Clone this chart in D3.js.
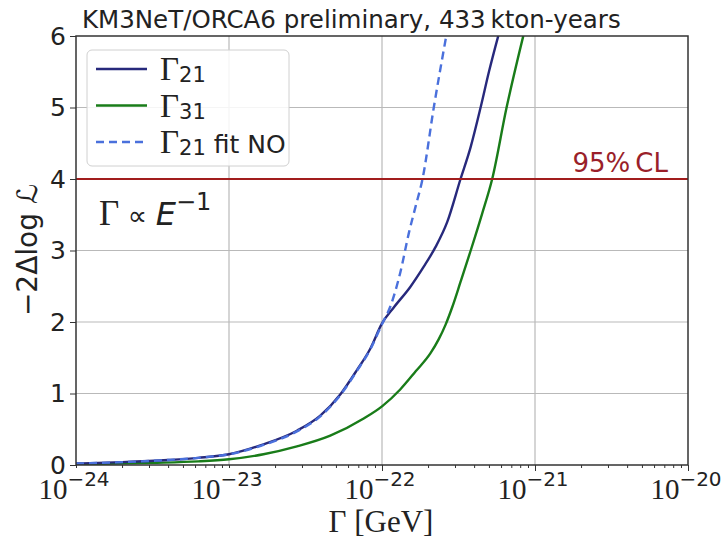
<!DOCTYPE html>
<html>
<head>
<meta charset="utf-8">
<script src="https://cdn.jsdelivr.net/npm/d3@7"></script>
<style>
body { margin: 0; background: #fff; }
</style>
</head>
<body>
<div id="chart"></div>
<script>
var w = 721,
    h = 538;

// --- data ---
var gamma21X = [1e-24, 2e-24, 4e-24, 6.3e-24, 1e-23, 1.68e-23, 2.78e-23, 3.95e-23, 5.35e-23, 6.87e-23, 8.4e-23,
                1e-22, 1.19e-22, 1.53e-22, 1.87e-22, 2.24e-22, 2.67e-22, 3.26e-22, 3.8e-22, 4.41e-22, 5.0e-22, 5.75e-22];
var gamma21Y = [0.02, 0.04, 0.07, 0.10, 0.15, 0.29, 0.48, 0.69, 0.99, 1.33, 1.63,
                1.98, 2.20, 2.49, 2.77, 3.05, 3.40, 4.0, 4.45, 5.0, 5.5, 6.0];

var gamma31X = [1e-24, 3.16e-24, 6.3e-24, 1e-23, 1.68e-23, 2.78e-23, 4.59e-23, 7.59e-23, 1e-22, 1.32e-22, 1.66e-22,
                2.07e-22, 2.35e-22, 2.6e-22, 2.88e-22, 3.26e-22, 3.8e-22, 4.52e-22, 5.25e-22, 6.52e-22, 8.38e-22];
var gamma31Y = [0.01, 0.03, 0.05, 0.08, 0.15, 0.26, 0.41, 0.65, 0.82, 1.06, 1.31,
                1.56, 1.76, 1.96, 2.21, 2.56, 3.0, 3.52, 4.0, 5.0, 6.0];

var fitNOX = [1e-24, 2e-24, 4e-24, 6.3e-24, 1e-23, 1.68e-23, 2.78e-23, 3.95e-23, 5.35e-23, 6.87e-23, 8.4e-23,
              1e-22, 1.135e-22, 1.32e-22, 1.5e-22, 1.66e-22, 1.84e-22, 2.18e-22, 2.63e-22];
var fitNOY = [0.02, 0.04, 0.07, 0.10, 0.15, 0.28, 0.47, 0.68, 0.98, 1.32, 1.62,
              1.97, 2.22, 2.70, 3.25, 3.62, 4.0, 5.0, 6.0];

var clLevel = 4;
var xMajorTicks = [1e-24, 1e-23, 1e-22, 1e-21, 1e-20];
var xTickExponents = ["\u221224", "\u221223", "\u221222", "\u221221", "\u221220"];
var yTicks = [0, 1, 2, 3, 4, 5, 6];

var legendLabels = [
  {sub: "21", extra: "", color: "#27297c", dash: null},
  {sub: "31", extra: "", color: "#197c19", dash: null},
  {sub: "21", extra: " fit NO", color: "#4a70dc", dash: "8,5"}
];

// --- layout ---
var plotL = 76, plotR = 688, plotT = 36, plotB = 465;

var x = d3.scaleLog().domain([1e-24, 1e-20]).range([plotL, plotR]);
var y = d3.scaleLinear().domain([0, 6]).range([plotB, plotT]);

var svg = d3.select("#chart")
            .append("svg")
            .attr("width", w)
            .attr("height", h);

svg.append("defs").append("clipPath")
   .attr("id", "plotclip")
   .append("rect")
   .attr("x", plotL).attr("y", plotT)
   .attr("width", plotR - plotL).attr("height", plotB - plotT);

// grid
var gridColor = "#b9b9b9";
svg.append("g").selectAll("line")
   .data(xMajorTicks.slice(1, -1))
   .enter().append("line")
   .attr("x1", function(d) { return x(d); })
   .attr("x2", function(d) { return x(d); })
   .attr("y1", plotT).attr("y2", plotB)
   .attr("stroke", gridColor).attr("stroke-width", 1.2);

svg.append("g").selectAll("line")
   .data(yTicks.slice(1, -1))
   .enter().append("line")
   .attr("x1", plotL).attr("x2", plotR)
   .attr("y1", function(d) { return y(d); })
   .attr("y2", function(d) { return y(d); })
   .attr("stroke", gridColor).attr("stroke-width", 1.2);

// curves
var line = d3.line()
             .x(function(d) { return x(d[0]); })
             .y(function(d) { return y(d[1]); })
             .curve(d3.curveMonotoneX);

var curves = svg.append("g").attr("clip-path", "url(#plotclip)");

curves.append("path")
      .datum(d3.zip(gamma31X, gamma31Y))
      .attr("d", line)
      .attr("fill", "none")
      .attr("stroke", legendLabels[1].color)
      .attr("stroke-width", 2.4);

curves.append("path")
      .datum(d3.zip(gamma21X, gamma21Y))
      .attr("d", line)
      .attr("fill", "none")
      .attr("stroke", legendLabels[0].color)
      .attr("stroke-width", 2.4);

curves.append("path")
      .datum(d3.zip(fitNOX, fitNOY))
      .attr("d", line)
      .attr("fill", "none")
      .attr("stroke", legendLabels[2].color)
      .attr("stroke-width", 2.4)
      .attr("stroke-dasharray", legendLabels[2].dash);

// 95% CL line
svg.append("line")
   .attr("x1", plotL).attr("x2", plotR)
   .attr("y1", y(clLevel)).attr("y2", y(clLevel))
   .attr("stroke", "#a11d1d")
   .attr("stroke-width", 2);

svg.append("text")
   .attr("x", 668).attr("y", y(clLevel) - 7)
   .attr("text-anchor", "end")
   .attr("font-family", "DejaVu Sans")
   .attr("font-size", "26px")
   .attr("fill", "#9a1f2a")
   .text("95%\u2009CL");

// frame
svg.append("rect")
   .attr("x", plotL).attr("y", plotT)
   .attr("width", plotR - plotL).attr("height", plotB - plotT)
   .attr("fill", "none")
   .attr("stroke", "#333")
   .attr("stroke-width", 1.5);

// axes
var xAxis = d3.axisBottom(x).tickValues(x.ticks()).tickFormat("")
              .tickSize(3);
var gx = svg.append("g")
            .attr("transform", "translate(0," + plotB + ")")
            .call(xAxis);
gx.select(".domain").remove();
gx.selectAll(".tick line")
  .attr("stroke", "#333")
  .attr("y2", function(d) { return xMajorTicks.indexOf(d) >= 0 ? 6 : 3; });

var xLabels = svg.append("g").selectAll("text")
                 .data(xMajorTicks)
                 .enter().append("text")
                 .attr("x", function(d) { return x(d) - 2; })
                 .attr("y", 499)
                 .attr("text-anchor", "middle")
                 .attr("font-family", "Liberation Serif")
                 .attr("font-size", "29px")
                 .attr("fill", "#222");
xLabels.append("tspan").text("10");
xLabels.append("tspan")
       .attr("dy", -13)
       .attr("font-family", "DejaVu Sans")
       .attr("font-size", "20px")
       .text(function(d, i) { return xTickExponents[i]; });

var yAxis = d3.axisLeft(y).tickValues(yTicks).tickSize(6).tickPadding(4)
              .tickFormat(d3.format("d"));
var gy = svg.append("g")
            .attr("transform", "translate(" + plotL + ",0)")
            .call(yAxis);
gy.select(".domain").remove();
gy.selectAll(".tick line").attr("stroke", "#333");
gy.selectAll(".tick text")
  .attr("font-family", "DejaVu Sans")
  .attr("font-size", "25px")
  .attr("fill", "#222");

// axis titles
svg.append("text")
   .attr("x", 381).attr("y", 532)
   .attr("text-anchor", "middle")
   .attr("font-family", "Liberation Serif")
   .attr("font-size", "31px")
   .attr("fill", "#222")
   .text("\u0393 [GeV]");

var yTitle = svg.append("text")
   .attr("transform", "translate(37,250) rotate(-90)")
   .attr("text-anchor", "middle")
   .attr("font-family", "DejaVu Sans")
   .attr("font-size", "28px")
   .attr("fill", "#222");
yTitle.append("tspan").text("\u22122\u0394log ");
yTitle.append("tspan").attr("font-style", "italic").text("\u2112");

// title
svg.append("text")
   .attr("x", 82).attr("y", 28)
   .attr("font-family", "DejaVu Sans")
   .attr("font-size", "24.5px")
   .attr("fill", "#222")
   .text("KM3NeT/ORCA6 preliminary, 433\u2009kton-years");

// Gamma ∝ E^-1 annotation
var ann = svg.append("text")
   .attr("x", 99).attr("y", 225)
   .attr("fill", "#222");
ann.append("tspan").attr("font-family", "Liberation Serif").attr("font-size", "35px").text("\u0393");
ann.append("tspan").attr("font-family", "DejaVu Sans").attr("font-size", "27px").text(" \u221D ");
ann.append("tspan").attr("font-family", "DejaVu Sans").attr("font-style", "italic").attr("font-size", "32px").text("E");
ann.append("tspan").attr("dy", -15).attr("font-family", "DejaVu Sans").attr("font-size", "24px").text("\u22121");

// legend
var legend = svg.append("g");
legend.append("rect")
      .attr("x", 87).attr("y", 50)
      .attr("width", 202).attr("height", 116)
      .attr("rx", 5)
      .attr("fill", "#fff").attr("fill-opacity", 0.85)
      .attr("stroke", "#d0d0d0").attr("stroke-width", 1);

var rows = legend.selectAll("g.row")
                 .data(legendLabels)
                 .enter().append("g")
                 .attr("class", "row")
                 .attr("transform", function(d, i) { return "translate(0," + (69 + i * 36.5) + ")"; });

rows.append("line")
    .attr("x1", 96).attr("x2", 147)
    .attr("stroke", function(d) { return d.color; })
    .attr("stroke-width", 2.4)
    .attr("stroke-dasharray", function(d) { return d.dash; });

var rowText = rows.append("text")
                  .attr("x", 160).attr("y", 11)
                  .attr("fill", "#222");
rowText.append("tspan")
       .attr("font-family", "Liberation Serif").attr("font-size", "33px")
       .text("\u0393");
rowText.append("tspan")
       .attr("dy", 2)
       .attr("font-family", "DejaVu Sans").attr("font-size", "21px")
       .text(function(d) { return d.sub; });
rowText.append("tspan")
       .attr("dy", -2)
       .attr("font-family", "DejaVu Sans").attr("font-size", "25px")
       .attr("xml:space", "preserve")
       .text(function(d) { return d.extra; });
</script>
</body>
</html>
